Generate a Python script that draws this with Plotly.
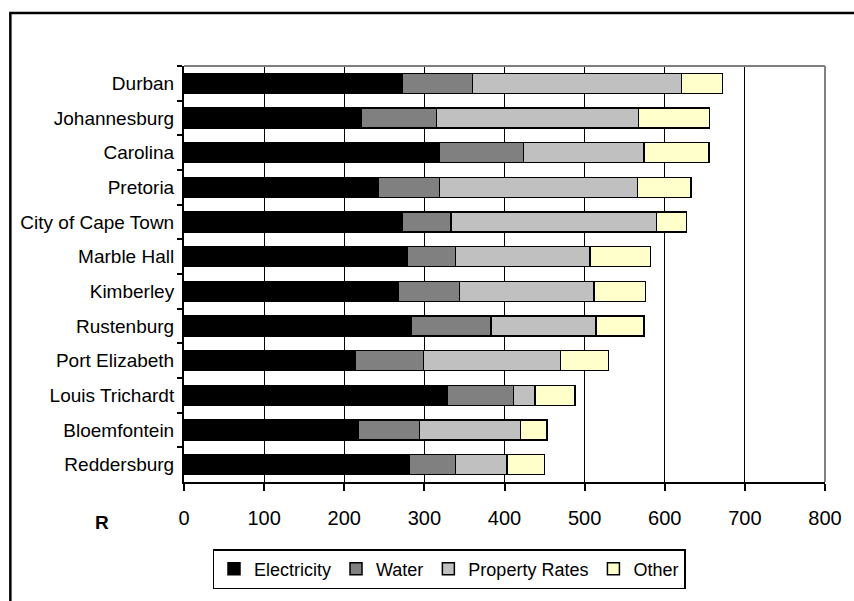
import plotly.graph_objects as go

# Municipal account components per city (Rand per month)
cities = ["Durban", "Johannesburg", "Carolina", "Pretoria", "City of Cape Town",
          "Marble Hall", "Kimberley", "Rustenburg", "Port Elizabeth",
          "Louis Trichardt", "Bloemfontein", "Reddersburg"]
electricity = [272, 221, 318, 243, 273, 278, 268, 283, 214, 328, 217, 281]
water = [88, 94, 106, 76, 60, 61, 76, 100, 85, 83, 77, 58]
property_rates = [261, 252, 150, 247, 257, 168, 168, 131, 171, 27, 126, 64]
other = [51, 89, 81, 67, 37, 75, 64, 60, 60, 50, 33, 47]

series = [
    ("Electricity", electricity, "#000000"),
    ("Water", water, "#808080"),
    ("Property Rates", property_rates, "#C0C0C0"),
    ("Other", other, "#FFFFCC"),
]

W, H = 854, 601
L, R, T, B = 184, 24, 66, 119
pw, ph = W - L - R, H - T - B

fig = go.Figure()
for name, vals, col in series:
    fig.add_trace(go.Bar(
        y=cities, x=vals, name=name, orientation="h",
        marker=dict(color=col, line=dict(color="#000000", width=1.5)),
    ))

font = "Liberation Sans, Arial, sans-serif"

fig.update_layout(
    width=W, height=H,
    margin=dict(l=L, r=R, t=T, b=B, pad=0),
    paper_bgcolor="white", plot_bgcolor="white",
    barmode="stack", bargap=0.42,
    font=dict(family=font, color="black", size=18),
    xaxis=dict(
        range=[0, 800], dtick=100, tick0=0,
        showgrid=True, gridcolor="black", gridwidth=1, zeroline=False,
        showline=True, linecolor="black", linewidth=2,
        ticks="outside", ticklen=7, tickcolor="black", tickwidth=2,
        tickfont=dict(size=20), ticklabelstandoff=10,
    ),
    yaxis=dict(
        type="category", categoryorder="array", categoryarray=cities,
        autorange="reversed", tickson="boundaries",
        showgrid=False, zeroline=False,
        showline=True, linecolor="black", linewidth=2,
        ticks="outside", ticklen=5, tickcolor="black", tickwidth=2,
        tickfont=dict(size=19), ticklabelstandoff=4,
    ),
    legend=dict(
        orientation="h", xref="container", yref="container",
        x=449 / W, xanchor="center", y=1 - 549 / H, yanchor="top",
        bordercolor="black", borderwidth=1.5, bgcolor="white",
        font=dict(size=18), itemwidth=30, tracegroupgap=0,
        traceorder="normal",
    ),
    showlegend=True,
)

# Outer chart frame and grey plot-area border (top and right)
fig.add_shape(type="rect", xref="paper", yref="paper",
              x0=(9 - L) / pw, x1=(W + 10 - L) / pw,
              y0=(H - T - B - (H + 10 - T)) / ph, y1=(H - B - 13) / ph,
              line=dict(color="black", width=2.5), layer="below")
fig.add_shape(type="line", xref="paper", yref="paper", x0=0, x1=1, y0=1, y1=1,
              line=dict(color="#808080", width=2))
fig.add_shape(type="line", xref="paper", yref="paper", x0=1, x1=1, y0=0, y1=1,
              line=dict(color="#808080", width=2))

# Currency label beside the value axis
fig.add_annotation(text="<b>R</b>", xref="paper", yref="paper",
                   x=(101 - L) / pw, y=(H - B - 522) / ph,
                   showarrow=False, font=dict(size=19),
                   xanchor="center", yanchor="middle")

fig.write_html("out.html")
